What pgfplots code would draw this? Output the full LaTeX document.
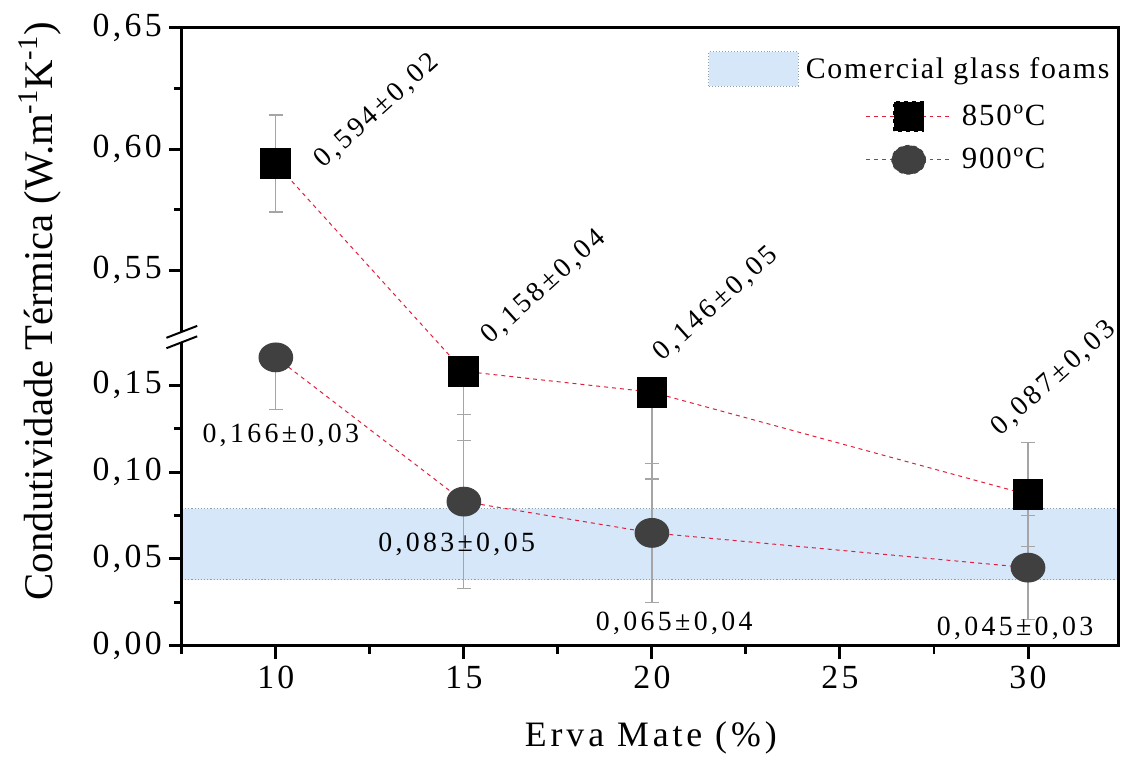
\documentclass[border=0pt]{standalone}
\usepackage{pgfplots}
\usepackage{pgfplotstable}
\pgfplotsset{compat=1.18}
\usepackage{fontspec}
\setmainfont{Liberation Serif}
\newfontfamily\tickfont[LetterSpace=10]{Liberation Serif}
\newfontfamily\labfont[LetterSpace=11]{Liberation Serif}
\newfontfamily\datafont[LetterSpace=12]{Liberation Serif}
\newfontfamily\legfont[LetterSpace=6]{Liberation Serif}
\definecolor{bandblue}{RGB}{213,231,249}
\definecolor{bandedge}{RGB}{140,160,180}
\definecolor{linered}{RGB}{225,30,60}
\definecolor{circgray}{RGB}{64,64,64}
\definecolor{errgray}{RGB}{165,165,165}

\pgfplotstableread{
x y e
10 0.594 0.02
15 0.158 0.04
20 0.146 0.05
30 0.087 0.03
}\tblA
\pgfplotstableread{
x y e
10 0.166 0.03
15 0.083 0.05
20 0.065 0.04
30 0.045 0.03
}\tblB
% error bar in the upper (compressed) panel
\pgfplotstableread{
x y e
10 0.594 0.02
}\tblErrUpper
% error bars drawn in full in the lower panel
\pgfplotstableread{
x y e
30 0.087 0.03
15 0.083 0.05
20 0.065 0.04
30 0.045 0.03
}\tblErrBoth
% error bars whose upper half falls in the axis break
\pgfplotstableread{
x y e
15 0.158 0.04
20 0.146 0.05
10 0.166 0.03
}\tblErrMinus

\pgfplotsset{
  brokeny/.style={
    scale only axis,
    width=471.25pt, height=311pt,
    xmin=7.5, xmax=32.4,
    ymin=0, ymax=0.65,
    y coord trafo/.code={\pgfmathparse{##1>0.3 ? 0.21616+1.3953*(##1-0.55) : ##1}},
    y coord inv trafo/.code={\pgfmathparse{##1>0.18 ? 0.55+(##1-0.21616)/1.3953 : ##1}},
  },
  errstyle/.style={forget plot, draw=none, mark=none,
    error bars/y explicit, error bars/error mark=-,
    error bars/error bar style={draw=errgray, solid, line width=0.6pt},
    error bars/error mark options={draw=errgray, solid, line width=0.6pt, mark size=3.5pt, rotate=90}},
}

\begin{document}
\begin{tikzpicture}
% background: commercial glass foam band
\begin{axis}[brokeny, hide axis,
  legend style={draw=none, fill=none, inner sep=0pt, outer sep=0pt,
    at={(rel axis cs:0.5623,0.9333)}, anchor=west,
    font=\legfont\fontsize{15}{18}\selectfont,
    nodes={inner sep=0pt, anchor=west}, column sep=3.5pt},
  legend cell align=left,
  legend image code/.code={%
    \path[fill=bandblue, draw=none] (0pt,-8.75pt) rectangle (45pt,8.75pt);
    \path[draw=bandedge, fill=none, densely dotted, line width=0.5pt] (0pt,-8.75pt) rectangle (45pt,8.75pt);},
]
\addplot[fill=bandblue, draw=none] coordinates {(7.5,0.038) (32.4,0.038) (32.4,0.079) (7.5,0.079) (7.5,0.038)};
\addlegendentry{Comercial glass foams}
\addplot[forget plot, bandedge, densely dotted, line width=0.6pt] coordinates {(7.5,0.038) (32.4,0.038)};
\addplot[forget plot, bandedge, densely dotted, line width=0.6pt] coordinates {(7.5,0.079) (32.4,0.079)};
\end{axis}

\begin{axis}[brokeny, clip=false,
  axis line style={line width=1.5pt},
  every tick/.style={black, line width=1.5pt},
  tick align=outside, tick pos=left,
  major tick length=6.5pt, minor tick length=4pt,
  xtick={10,15,20,25,30},
  xticklabels={10,15,20,25,30},
  minor xtick={7.5,12.5,17.5,22.5,27.5},
  ytick={0,0.05,0.1,0.15,0.55,0.6,0.65},
  yticklabels={{0,00},{0,05},{0,10},{0,15},{0,55},{0,60},{0,65}},
  minor ytick={0.025,0.075,0.125,0.575,0.625},
  ticklabel style={font=\tickfont\fontsize{17}{20}\selectfont},
  xlabel={Erva Mate (\%)},
  xlabel style={font=\labfont\fontsize{18}{21}\selectfont,
    at={(axis description cs:0.5008,-0.1495)}, anchor=center},
  ylabel={Condutividade Térmica (W.m\textsuperscript{-1}K\textsuperscript{-1})},
  ylabel style={font=\fontsize{20.5}{24}\selectfont,
    at={(axis description cs:-0.1517,0.5418)}, anchor=center},
  legend style={draw=none, fill=none, inner sep=0pt, outer sep=0pt,
    at={(rel axis cs:0.7300,0.8215)}, anchor=west,
    font=\legfont\fontsize{15.5}{18}\selectfont,
    nodes={inner sep=0pt, minimum height=21.85pt, anchor=west},
    column sep=5pt, row sep=0pt},
  legend cell align=left,
]
\addplot[draw=linered, line width=0.5pt, dash pattern=on 2pt off 2pt,
  mark=square*, mark size=7.5pt, mark options={solid, fill=black, draw=black},
  legend image code/.code={%
    \draw[draw=linered, line width=0.5pt, dash pattern=on 2pt off 2pt] (0pt,0pt) -- (43pt,0pt);
    \fill[black] (14pt,-7.5pt) rectangle (29pt,7.5pt);}]
  table[x=x, y=y] {\tblA};
\addlegendentry{850ºC}
\addplot[draw=linered, line width=0.5pt, dash pattern=on 2pt off 2pt,
  mark=*, mark size=7.25pt, mark options={solid, fill=circgray, draw=circgray, xscale=1.17},
  legend image code/.code={%
    \draw[draw=linered, line width=0.5pt, dash pattern=on 2pt off 2pt] (0pt,0pt) -- (43pt,0pt);
    \fill[circgray] (21.5pt,0pt) ellipse [x radius=8.5pt, y radius=7.25pt];}]
  table[x=x, y=y] {\tblB};
\addlegendentry{900ºC}

% upper panel is drawn at 1.3953 times the scale of the lower one
\addplot[errstyle, error bars/y dir=both]
  table[x=x, y=y, y error expr=\thisrow{e}*1.3953] {\tblErrUpper};
\addplot[errstyle, error bars/y dir=both]
  table[x=x, y=y, y error=e] {\tblErrBoth};
\addplot[errstyle, error bars/y dir=minus]
  table[x=x, y=y, y error=e] {\tblErrMinus};

% value labels
\node[rotate=42, font=\datafont\fontsize{14}{16}\selectfont] at (axis cs:12.695,0.6156) {0,594±0,02};
\node[rotate=42, font=\datafont\fontsize{14}{16}\selectfont] at (axis cs:17.133,0.5430) {0,158±0,04};
\node[rotate=42, font=\datafont\fontsize{14}{16}\selectfont] at (axis cs:21.704,0.5361) {0,146±0,05};
\node[rotate=42, font=\datafont\fontsize{14}{16}\selectfont] at (axis cs:30.687,0.1538) {0,087±0,03};
\node[font=\datafont\fontsize{14}{16}\selectfont] at (axis cs:10.132,0.1212) {0,166±0,03};
\node[font=\datafont\fontsize{14}{16}\selectfont] at (axis cs:14.808,0.0583) {0,083±0,05};
\node[font=\datafont\fontsize{14}{16}\selectfont] at (axis cs:20.594,0.01315) {0,065±0,04};
\node[font=\datafont\fontsize{14}{16}\selectfont] at (axis cs:29.656,0.0103) {0,045±0,03};

% axis break on the y axis
\fill[white] ([xshift=-1.5pt]axis cs:7.5,0.1747) rectangle ([xshift=1.5pt]axis cs:7.5,0.1807);
\draw[line width=1pt] ([xshift=-7.75pt,yshift=-3pt]axis cs:7.5,0.1807) -- ([xshift=7.75pt,yshift=3pt]axis cs:7.5,0.1807);
\draw[line width=1pt] ([xshift=-7.75pt,yshift=-3pt]axis cs:7.5,0.1747) -- ([xshift=7.75pt,yshift=3pt]axis cs:7.5,0.1747);
\end{axis}
\path (-91.5pt,-55pt) rectangle (473pt,325pt);
\end{tikzpicture}
\end{document}
